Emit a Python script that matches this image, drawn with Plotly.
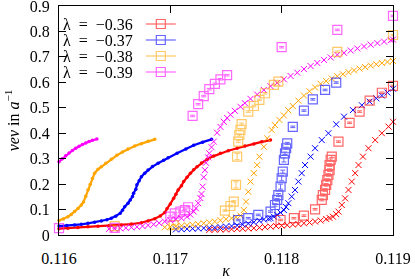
import plotly.graph_objects as go

# ---------------- data ----------------
lambdas = ["−0.36", "−0.37", "−0.38", "−0.39"]
colors = ["#ff0000", "#0000ff", "#ffa500", "#ff00ff"]

# small-dot curves
dot_k_036 = [0.116, 0.11608, 0.11617, 0.11626, 0.11635, 0.11645, 0.11656, 0.11665, 0.11674, 0.1168, 0.11686,
             0.11691, 0.11695, 0.11697, 0.117, 0.11703, 0.11705, 0.11707, 0.1171, 0.11712, 0.11715, 0.11718,
             0.11721, 0.11724, 0.11728, 0.11733, 0.11739, 0.11745, 0.11752, 0.1176, 0.11767, 0.11775, 0.11782, 0.1179]
dot_v_036 = [0.025, 0.027, 0.029, 0.032, 0.034, 0.036, 0.039, 0.043, 0.048, 0.055, 0.064,
             0.075, 0.088, 0.103, 0.122, 0.144, 0.160, 0.177, 0.194, 0.21, 0.227, 0.243,
             0.256, 0.268, 0.283, 0.298, 0.31, 0.321, 0.331, 0.341, 0.35, 0.358, 0.366, 0.373]
dot_k_037 = [0.116, 0.11607, 0.11614, 0.1162, 0.11626, 0.11632, 0.11638, 0.11643, 0.11647, 0.11651, 0.11655,
             0.11657, 0.11659, 0.11662, 0.11664, 0.11666, 0.11667, 0.11669, 0.1167, 0.11672, 0.11674, 0.11677,
             0.1168, 0.11684, 0.11689, 0.11694, 0.11698, 0.11706, 0.11714, 0.11721, 0.11729, 0.11737]
dot_v_037 = [0.035, 0.037, 0.039, 0.042, 0.046, 0.050, 0.055, 0.060, 0.066, 0.074, 0.085,
             0.097, 0.111, 0.125, 0.138, 0.151, 0.164, 0.18, 0.197, 0.213, 0.229, 0.243,
             0.255, 0.269, 0.282, 0.294, 0.304, 0.321, 0.338, 0.353, 0.365, 0.376]
dot_k_038 = [0.116, 0.11604, 0.11608, 0.11611, 0.11614, 0.11617, 0.1162, 0.11622, 0.11624, 0.11626, 0.11628,
             0.1163, 0.11632, 0.11635, 0.11638, 0.11642, 0.11647, 0.11652, 0.11657, 0.11662, 0.11668, 0.11674,
             0.1168, 0.11686]
dot_v_038 = [0.057, 0.063, 0.072, 0.081, 0.092, 0.104, 0.118, 0.13, 0.152, 0.177, 0.198,
             0.222, 0.243, 0.258, 0.268, 0.282, 0.298, 0.313, 0.326, 0.338, 0.35, 0.359,
             0.368, 0.376]
dot_k_039 = [0.116, 0.11603, 0.11606, 0.11609, 0.11612, 0.11615, 0.11618, 0.11621, 0.11624, 0.11627, 0.1163, 0.11634]
dot_v_039 = [0.288, 0.300, 0.311, 0.322, 0.332, 0.341, 0.349, 0.356, 0.362, 0.367, 0.372, 0.377]

# cross curves
x_k_036 = [0.11735, 0.1174, 0.11745, 0.1175, 0.11755, 0.1176, 0.11765, 0.1177, 0.11775, 0.1178, 0.11785,
           0.1179, 0.11795, 0.118, 0.11805, 0.1181, 0.11815, 0.1182, 0.11825, 0.1183, 0.11835, 0.1184,
           0.11843, 0.11846, 0.11849, 0.11851, 0.11854, 0.11857, 0.1186, 0.11863, 0.11866, 0.11869,
           0.11873, 0.11878, 0.11884, 0.1189, 0.11896, 0.119]
x_v_036 = [0.020, 0.021, 0.022, 0.022, 0.023, 0.024, 0.025, 0.026, 0.027, 0.029, 0.031,
           0.033, 0.035, 0.037, 0.039, 0.041, 0.043, 0.046, 0.049, 0.053, 0.057, 0.063,
           0.067, 0.072, 0.082, 0.092, 0.118, 0.144, 0.177, 0.21, 0.243, 0.275,
           0.308, 0.341, 0.373, 0.40, 0.426, 0.445]
x_k_037 = [0.11705, 0.1171, 0.11715, 0.1172, 0.11725, 0.1173, 0.11735, 0.1174, 0.11745, 0.1175, 0.11755,
           0.1176, 0.11765, 0.1177, 0.11775, 0.1178, 0.11784, 0.11788, 0.1179, 0.11793, 0.11796, 0.11799,
           0.11802, 0.11804, 0.11806, 0.11809, 0.11812, 0.11815, 0.11818, 0.11821, 0.11826, 0.1183,
           0.11836, 0.11842, 0.11849, 0.11856, 0.11864, 0.11872, 0.11879, 0.11885, 0.1189, 0.11895, 0.119]
x_v_037 = [0.022, 0.023, 0.024, 0.025, 0.026, 0.027, 0.028, 0.029, 0.031, 0.033, 0.035,
           0.038, 0.041, 0.045, 0.05, 0.056, 0.061, 0.064, 0.066, 0.072, 0.079, 0.088,
           0.098, 0.11, 0.125, 0.151, 0.177, 0.21, 0.243, 0.275, 0.308, 0.341,
           0.373, 0.40, 0.435, 0.465, 0.491, 0.51, 0.524, 0.537, 0.548, 0.56, 0.575]
x_k_038 = [0.11695, 0.117, 0.11705, 0.1171, 0.11715, 0.1172, 0.11725, 0.1173, 0.11735, 0.1174, 0.11745,
           0.1175, 0.11755, 0.11759, 0.11763, 0.11766, 0.11768, 0.1177, 0.11772, 0.11775, 0.11778, 0.1178,
           0.11784, 0.11787, 0.11791, 0.11794, 0.11798, 0.11802, 0.11806, 0.1181, 0.11815, 0.1182,
           0.11825, 0.1183, 0.11835, 0.1184, 0.11845, 0.1185, 0.11855, 0.1186, 0.11865, 0.1187,
           0.11875, 0.1188, 0.11885, 0.1189, 0.11895, 0.119]
x_v_038 = [0.030, 0.032, 0.034, 0.036, 0.038, 0.040, 0.043, 0.046, 0.049, 0.053, 0.058,
           0.062, 0.066, 0.070, 0.076, 0.098, 0.131, 0.170, 0.210, 0.243, 0.275, 0.308,
           0.347, 0.380, 0.413, 0.432, 0.452, 0.47, 0.49, 0.507, 0.528, 0.548,
           0.565, 0.58, 0.594, 0.605, 0.615, 0.624, 0.632, 0.64, 0.647, 0.654,
           0.66, 0.666, 0.671, 0.676, 0.68, 0.684]
x_k_039 = [0.11645, 0.1165, 0.11655, 0.1166, 0.11665, 0.1167, 0.11675, 0.1168, 0.11685, 0.1169, 0.11695,
           0.117, 0.11705, 0.1171, 0.11715, 0.11718, 0.11721, 0.11723, 0.11725, 0.11727, 0.11728, 0.11729,
           0.1173, 0.11731, 0.11732, 0.11734, 0.11735, 0.11737, 0.11739, 0.11742, 0.11745, 0.11748,
           0.11751, 0.11754, 0.11758, 0.11763, 0.11767, 0.11772, 0.11778, 0.11784, 0.1179, 0.11796,
           0.11802, 0.11808, 0.11814, 0.1182, 0.11826, 0.11832, 0.11838, 0.11844, 0.1185, 0.11856,
           0.11862, 0.11868, 0.11874, 0.1188, 0.11886, 0.11892, 0.11898, 0.119]
x_v_039 = [0.024, 0.025, 0.026, 0.028, 0.030, 0.032, 0.035, 0.038, 0.042, 0.047, 0.053,
           0.058, 0.062, 0.066, 0.072, 0.080, 0.092, 0.105, 0.125, 0.145, 0.161, 0.19,
           0.227, 0.255, 0.284, 0.305, 0.321, 0.345, 0.367, 0.402, 0.425, 0.445,
           0.46, 0.473, 0.488, 0.504, 0.518, 0.535, 0.552, 0.57, 0.585, 0.598,
           0.612, 0.625, 0.638, 0.652, 0.664, 0.676, 0.688, 0.698, 0.708, 0.716,
           0.725, 0.733, 0.741, 0.748, 0.754, 0.760, 0.766, 0.768]

# squares with error bars
sq_k_036 = [0.11799, 0.11811, 0.1182, 0.1183, 0.11836, 0.11837, 0.11839, 0.1184, 0.11841, 0.11842,
            0.11843, 0.11843, 0.11844, 0.11845, 0.11851, 0.11861, 0.1187, 0.11879, 0.1189, 0.119]
sq_v_036 = [0.059, 0.066, 0.076, 0.101, 0.138, 0.157, 0.177, 0.197, 0.216, 0.236,
            0.255, 0.275, 0.295, 0.308, 0.367, 0.441, 0.485, 0.528, 0.559, 0.586]
sq_e_036 = [0.003, 0.003, 0.003, 0.003, 0.004, 0.004, 0.005, 0.005, 0.005, 0.005,
            0.005, 0.005, 0.004, 0.004, 0.003, 0.003, 0.003, 0.003, 0.003, 0.003]
sq_k_037 = [0.11761, 0.1177, 0.11779, 0.1179, 0.11794, 0.11796, 0.11797, 0.11799, 0.118, 0.11801,
            0.11802, 0.11803, 0.11804, 0.11805, 0.1181, 0.1182, 0.11828, 0.11839, 0.11849]
sq_v_037 = [0.059, 0.066, 0.079, 0.092, 0.118, 0.138, 0.157, 0.19, 0.223, 0.249,
            0.295, 0.321, 0.341, 0.36, 0.425, 0.489, 0.533, 0.57, 0.599]
sq_e_037 = [0.003, 0.003, 0.003, 0.003, 0.005, 0.005, 0.006, 0.010, 0.010, 0.006,
            0.008, 0.005, 0.004, 0.004, 0.003, 0.003, 0.003, 0.003, 0.003]
sq_k_038 = [0.1165, 0.11703, 0.11749, 0.11754, 0.11757, 0.11759, 0.1176, 0.11761, 0.11762, 0.11763,
            0.11764, 0.1177, 0.11775, 0.1178, 0.11785, 0.11793, 0.11797, 0.1185, 0.119]
sq_v_038 = [0.035, 0.039, 0.096, 0.114, 0.131, 0.197, 0.308, 0.367, 0.393, 0.413,
            0.436, 0.485, 0.507, 0.531, 0.557, 0.590, 0.603, 0.72, 0.786]
sq_e_038 = [0.003, 0.003, 0.003, 0.003, 0.004, 0.012, 0.012, 0.004, 0.004, 0.004,
            0.004, 0.003, 0.003, 0.003, 0.003, 0.003, 0.003, 0.003, 0.003]
sq_k_039 = [0.116, 0.1165, 0.117, 0.11704, 0.11709, 0.11713, 0.11716, 0.1172, 0.11725, 0.1173,
            0.11735, 0.1174, 0.11745, 0.11751, 0.118, 0.1185, 0.119]
sq_v_039 = [0.027, 0.028, 0.072, 0.085, 0.092, 0.098, 0.109, 0.468, 0.514, 0.546,
            0.573, 0.594, 0.612, 0.628, 0.738, 0.806, 0.861]
sq_e_039 = [0.003, 0.003, 0.003, 0.003, 0.003, 0.003, 0.003, 0.003, 0.003, 0.003,
            0.003, 0.003, 0.003, 0.003, 0.003, 0.003, 0.003]

dots = [(dot_k_036, dot_v_036), (dot_k_037, dot_v_037), (dot_k_038, dot_v_038), (dot_k_039, dot_v_039)]
crosses = [(x_k_036, x_v_036), (x_k_037, x_v_037), (x_k_038, x_v_038), (x_k_039, x_v_039)]
squares = [(sq_k_036, sq_v_036, sq_e_036), (sq_k_037, sq_v_037, sq_e_037),
           (sq_k_038, sq_v_038, sq_e_038), (sq_k_039, sq_v_039, sq_e_039)]

xticks = [0.116, 0.117, 0.118, 0.119]
xticktext = ["0.116", "0.117", "0.118", "0.119"]
yticks = [0, 0.1, 0.2, 0.3, 0.4, 0.5, 0.6, 0.7, 0.8, 0.9]
yticktext = ["0", "0.1", "0.2", "0.3", "0.4", "0.5", "0.6", "0.7", "0.8", "0.9"]

FONT = "Liberation Serif, Times New Roman, DejaVu Serif, serif"
FS = 16
W, H = 415, 279
ML, MR, MT, MB = 59, 22, 6, 44
PW, PH = W - ML - MR, H - MT - MB

fig = go.Figure()

for i, c in enumerate(colors):
    k, v = dots[i]
    fig.add_trace(go.Scatter(x=k, y=v, mode="lines+markers", showlegend=False, cliponaxis=False,
                             line=dict(color=c, width=2.2),
                             marker=dict(color=c, size=3.5, symbol="circle")))
for i, c in enumerate(colors):
    k, v = crosses[i]
    fig.add_trace(go.Scatter(x=k, y=v, mode="markers", showlegend=False, cliponaxis=False,
                             marker=dict(color=c, size=6, symbol="x-thin-open",
                                         line=dict(color=c, width=1))))
for i, c in enumerate(colors):
    k, v, e = squares[i]
    fig.add_trace(go.Scatter(x=k, y=v, mode="markers", showlegend=False, cliponaxis=False, opacity=0.6,
                             error_y=dict(type="data", array=e, color=c, thickness=1, width=2.5),
                             marker=dict(color=c, size=9, symbol="square-open",
                                         line=dict(color=c, width=1.2))))

# legend keys (one legend per lambda, text on the left as legend title)
legend_names = ["legend", "legend2", "legend3", "legend4"]
row_y = [25, 41, 57, 73]
layout_legends = {}
SP = "\u2002"
for i, c in enumerate(colors):
    fig.add_trace(go.Scatter(x=[None], y=[None], mode="lines+markers", name=" ", opacity=0.6,
                             legend=legend_names[i], showlegend=True,
                             line=dict(color=c, width=1.2),
                             marker=dict(color=c, size=9, symbol="square-open",
                                         line=dict(color=c, width=1.2))))
    layout_legends[legend_names[i]] = dict(
        x=(61 - ML) / PW, xanchor="left",
        y=(H - MB - row_y[i]) / PH, yanchor="middle",
        bgcolor="rgba(0,0,0,0)", borderwidth=0,
        title=dict(text="λ" + SP + "=" + SP + lambdas[i], side="left",
                   font=dict(family=FONT, size=FS, color="black")),
        font=dict(family=FONT, size=FS - 4, color="black"),
        itemwidth=30, tracegroupgap=0,
    )

fig.update_layout(
    width=W, height=H,
    margin=dict(l=ML, r=MR, t=MT, b=MB, pad=0, autoexpand=False),
    paper_bgcolor="white", plot_bgcolor="white",
    font=dict(family=FONT, size=FS, color="black"),
    **layout_legends,
)
fig.update_xaxes(range=[0.116, 0.119], tickvals=xticks, ticktext=xticktext, automargin=False,
                 showgrid=False, zeroline=False, showline=True, linecolor="black", linewidth=1,
                 mirror="allticks", ticks="inside", ticklen=7, tickcolor="black",
                 ticklabelstandoff=9, ticklabeloverflow="allow",
                 tickfont=dict(family=FONT, size=FS),
                 title=dict(text="<i>κ</i>", standoff=4, font=dict(family=FONT, size=FS)))
fig.update_yaxes(range=[0, 0.9], tickvals=yticks, ticktext=yticktext, automargin=False,
                 showgrid=False, zeroline=False, showline=True, linecolor="black", linewidth=1,
                 mirror="allticks", ticks="inside", ticklen=7, tickcolor="black",
                 ticklabelstandoff=5, ticklabeloverflow="allow",
                 tickfont=dict(family=FONT, size=FS),
                 title=dict(text="<i>vev</i> in <i>a</i><sup>−1</sup>", standoff=6,
                            font=dict(family=FONT, size=FS)))

fig.write_html("out.html", config={"displayModeBar": False},
               post_script="document.body.style.margin='0px';")
